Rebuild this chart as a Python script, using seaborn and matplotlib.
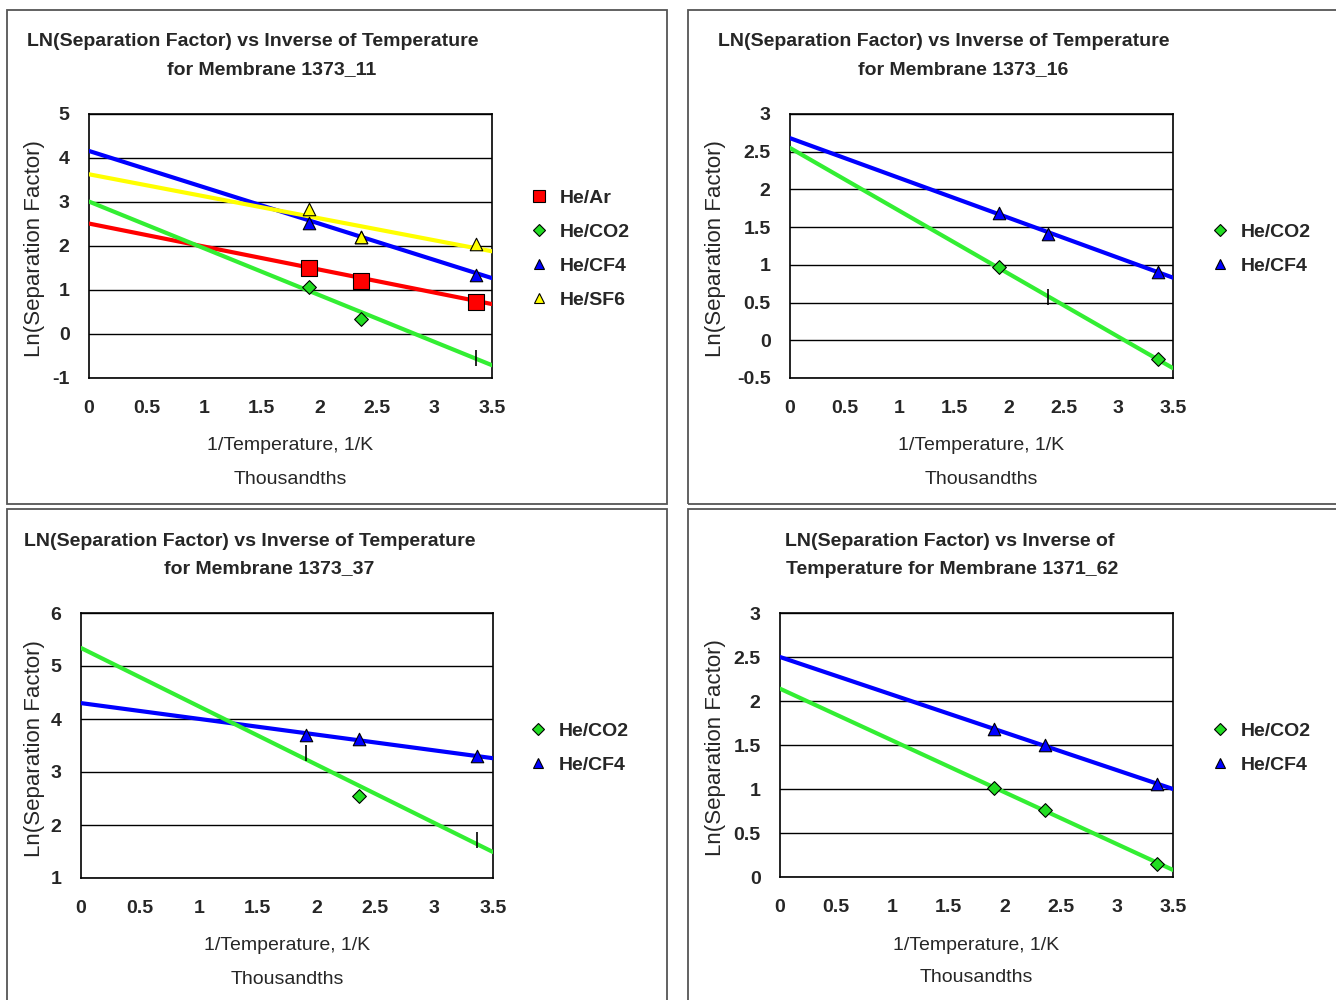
import matplotlib
matplotlib.use("Agg")
import matplotlib.pyplot as plt
from matplotlib.patches import Rectangle
from matplotlib.lines import Line2D
import seaborn as sns
import pandas as pd
import numpy as np

sns.set_style("white")
plt.rcParams['font.family'] = ['Liberation Sans', 'DejaVu Sans']

W, H = 1336, 1000

# ---------------- data ----------------
inv_temp = [1.91, 2.36, 3.36]          # 1/T, thousandths
trend_x = [0.0, 3.5]

# Panel 1: membrane 1373_11
p1_ar = [1.49, 1.21, 0.73]
p1_co2_x = [1.91, 2.36]
p1_co2 = [1.07, 0.35]
p1_cf4 = [2.53, 2.21, 1.35]
p1_sf6 = [2.84, 2.20, 2.04]
p1_trend_ar = [2.51, 0.68]
p1_trend_co2 = [3.01, -0.71]
p1_trend_cf4 = [4.16, 1.27]
p1_trend_sf6 = [3.63, 1.88]
p1_tick_x = [3.36]
p1_tick_y = [-0.54]

# Panel 2: membrane 1373_16
p2_co2_x = [1.91, 3.36]
p2_co2 = [0.97, -0.25]
p2_cf4 = [1.69, 1.41, 0.90]
p2_trend_co2 = [2.55, -0.37]
p2_trend_cf4 = [2.68, 0.83]
p2_tick_x = [2.36]
p2_tick_y = [0.57]

# Panel 3: membrane 1373_37
p3_co2_x = [2.36]
p3_co2 = [2.54]
p3_cf4 = [3.69, 3.63, 3.30]
p3_trend_co2 = [5.34, 1.49]
p3_trend_cf4 = [4.30, 3.26]
p3_tick_x = [1.91, 3.36]
p3_tick_y = [3.36, 1.72]

# Panel 4: membrane 1371_62
p4_co2 = [1.01, 0.76, 0.15]
p4_cf4 = [1.68, 1.50, 1.06]
p4_trend_co2 = [2.14, 0.08]
p4_trend_cf4 = [2.50, 1.00]

x_ticks = [0, 0.5, 1, 1.5, 2, 2.5, 3, 3.5]
x_tick_labels = ["0", "0.5", "1", "1.5", "2", "2.5", "3", "3.5"]

titles = [
    ("LN(Separation Factor) vs Inverse of Temperature", "for Membrane 1373_11"),
    ("LN(Separation Factor) vs Inverse of Temperature", "for Membrane 1373_16"),
    ("LN(Separation Factor) vs Inverse of Temperature", "for Membrane 1373_37"),
    ("LN(Separation Factor) vs Inverse of", "Temperature for Membrane 1371_62"),
]
y_label = "Ln(Separation Factor)"
x_label1 = "1/Temperature, 1/K"
x_label2 = "Thousandths"

# ---------------- styles ----------------
C_RED = "#ff0000"
C_GREEN = "#33ee33"
C_BLUE = "#0000ff"
C_YEL = "#ffff00"
C_GREEN_M = "#22dd22"

styles = {
    "He/Ar": dict(color=C_RED, marker="s", ms=11),
    "He/CO2": dict(color=C_GREEN_M, marker="D", ms=7),
    "He/CF4": dict(color=C_BLUE, marker="^", ms=9),
    "He/SF6": dict(color=C_YEL, marker="^", ms=9),
}
line_colors = {"He/Ar": C_RED, "He/CO2": C_GREEN, "He/CF4": C_BLUE, "He/SF6": C_YEL}

fig = plt.figure(figsize=(W / 100, H / 100), dpi=100)

def fx(px):
    return px / W

def fy(py):
    return 1 - py / H

# panel border boxes
boxes = [(7, 10, 667, 504), (688, 10, 1400, 504), (7, 509, 667, 1060), (688, 509, 1400, 1060)]
for (x0, y0, x1, y1) in boxes:
    fig.add_artist(Rectangle((fx(x0), fy(y1)), fx(x1) - fx(x0), fy(y0) - fy(y1),
                             transform=fig.transFigure, fill=False,
                             edgecolor="#555555", linewidth=1.3))

panels = [
    dict(ax=(89, 114, 492, 378), ylim=(-1, 5), yt=np.arange(-1, 5.01, 1), yfmt="{:g}",
         trends=[("He/CF4", p1_trend_cf4), ("He/SF6", p1_trend_sf6), ("He/Ar", p1_trend_ar), ("He/CO2", p1_trend_co2)],
         points=[("He/Ar", inv_temp, p1_ar), ("He/CO2", p1_co2_x, p1_co2), ("He/CF4", inv_temp, p1_cf4), ("He/SF6", inv_temp, p1_sf6)],
         ticks=(p1_tick_x, p1_tick_y), legend=["He/Ar", "He/CO2", "He/CF4", "He/SF6"], leg=(529, 201),
         title_c=(253, 272), ylab_x=35),
    dict(ax=(790, 114, 1173, 378), ylim=(-0.5, 3), yt=np.arange(-0.5, 3.01, 0.5), yfmt="{:g}",
         trends=[("He/CF4", p2_trend_cf4), ("He/CO2", p2_trend_co2)],
         points=[("He/CO2", p2_co2_x, p2_co2), ("He/CF4", inv_temp, p2_cf4)],
         ticks=(p2_tick_x, p2_tick_y), legend=["He/CO2", "He/CF4"], leg=(1210, 235),
         title_c=(944, 963), ylab_x=716),
    dict(ax=(81, 613, 493, 878), ylim=(1, 6), yt=np.arange(1, 6.01, 1), yfmt="{:g}",
         trends=[("He/CF4", p3_trend_cf4), ("He/CO2", p3_trend_co2)],
         points=[("He/CO2", p3_co2_x, p3_co2), ("He/CF4", inv_temp, p3_cf4)],
         ticks=(p3_tick_x, p3_tick_y), legend=["He/CO2", "He/CF4"], leg=(528, 734),
         title_c=(250, 269), ylab_x=35),
    dict(ax=(780, 613, 1173, 877), ylim=(0, 3), yt=np.arange(0, 3.01, 0.5), yfmt="{:g}",
         trends=[("He/CF4", p4_trend_cf4), ("He/CO2", p4_trend_co2)],
         points=[("He/CO2", inv_temp, p4_co2), ("He/CF4", inv_temp, p4_cf4)],
         ticks=None, legend=["He/CO2", "He/CF4"], leg=(1210, 734),
         title_c=(950, 952), ylab_x=716),
]

FS = 14

for i, p in enumerate(panels):
    x0, y0, x1, y1 = p["ax"]
    ax = fig.add_axes([fx(x0), fy(y1), fx(x1) - fx(x0), fy(y0) - fy(y1)])
    # trend lines
    for name, vals in p["trends"]:
        df = pd.DataFrame({"x": trend_x, "y": vals})
        sns.lineplot(data=df, x="x", y="y", ax=ax, color=line_colors[name], lw=3, zorder=3)
    # data points
    for name, xs, ys in p["points"]:
        st = styles[name]
        df = pd.DataFrame({"x": xs, "y": ys})
        sns.scatterplot(data=df, x="x", y="y", ax=ax, color=st["color"], marker=st["marker"],
                        s=st["ms"] ** 2, edgecolor="black", linewidth=0.8, zorder=5)
    if p["ticks"] is not None:
        tx, ty = p["ticks"]
        ax.plot(tx, ty, linestyle="none", marker="|", color="black", ms=12, mew=1.2, zorder=6)
    ax.set_xlim(0, 3.5)
    ax.set_ylim(*p["ylim"])
    ax.set_xticks(x_ticks)
    ax.set_xticklabels(x_tick_labels, fontsize=FS, fontweight="bold")
    ax.set_yticks(p["yt"])
    ax.set_yticklabels([p["yfmt"].format(v) for v in p["yt"]], fontsize=FS, fontweight="bold")
    ax.tick_params(axis="x", length=0, pad=16)
    ax.tick_params(axis="y", length=0, pad=14)
    ax.grid(axis="y", color="black", lw=1)
    ax.grid(axis="x", visible=False)
    for s in ax.spines.values():
        s.set_visible(True)
        s.set_color("black")
        s.set_linewidth(1.2)
    ax.set_xlabel("")
    ax.set_ylabel("")
    # axis titles
    cx = (x0 + x1) / 2
    fig.text(fx(cx), fy(y1 + 68), x_label1, ha="center", va="center", fontsize=FS)
    fig.text(fx(cx), fy(y1 + 101), x_label2, ha="center", va="center", fontsize=FS)
    fig.text(fx(p["ylab_x"]), fy((y0 + y1) / 2 + 3), y_label, ha="center", va="center",
             rotation=90, fontsize=16)
    # chart title
    t1, t2 = titles[i]
    fig.text(fx(p["title_c"][0]), fy(y0 - 72), t1, ha="center", va="center", fontsize=FS, fontweight="bold")
    fig.text(fx(p["title_c"][1]), fy(y0 - 44), t2, ha="center", va="center", fontsize=FS, fontweight="bold")
    # legend
    handles = []
    for name in p["legend"]:
        st = styles[name]
        handles.append(Line2D([], [], linestyle="none", marker=st["marker"], color=st["color"],
                              markeredgecolor="black", markeredgewidth=0.8, ms=st["ms"] * 0.85))
    lx, ly = p["leg"]
    fig.legend(handles, p["legend"], loc="upper left", bbox_to_anchor=(fx(lx), fy(ly - 12)),
               frameon=False, prop=dict(size=FS, weight="bold"), handlelength=1.0,
               handletextpad=0.6, labelspacing=0.85, borderpad=0, borderaxespad=0)

fig.savefig("out.png", dpi=100)
